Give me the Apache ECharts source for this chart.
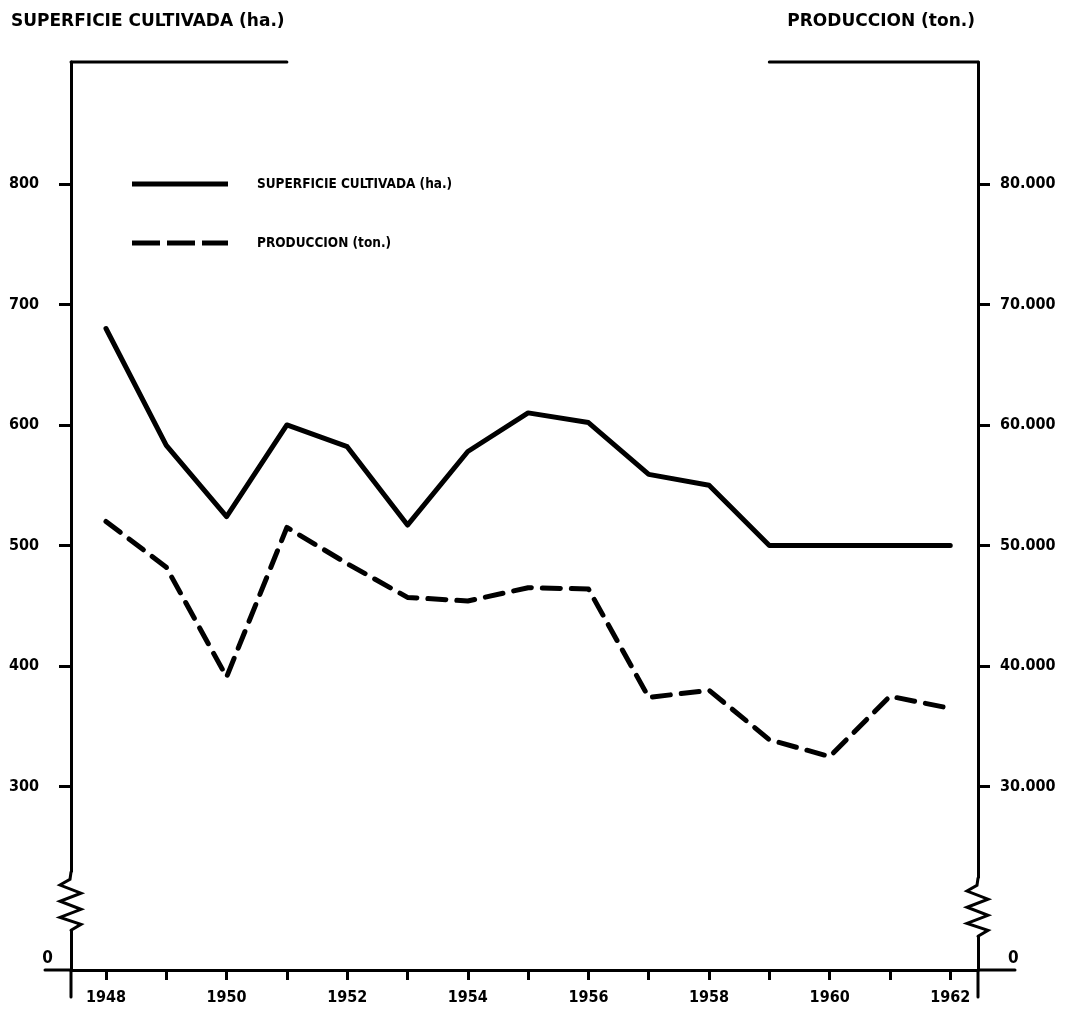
<!DOCTYPE html>
<html>
<head>
<meta charset="utf-8">
<script src="https://cdn.jsdelivr.net/npm/echarts@6/dist/echarts.min.js"></script>
<style>
html, body { margin: 0; padding: 0; background: #fff; }
#chart { width: 1077px; height: 1012px; }
</style>
</head>
<body>
<div id="chart"></div>
<script>
// valores
const years = [1948, 1949, 1950, 1951, 1952, 1953, 1954, 1955, 1956, 1957, 1958, 1959, 1960, 1961, 1962];
const superficie = [680, 583, 524, 600, 582, 517, 578, 610, 602, 559, 550, 500, 500, 500, 500];
const produccion = [52000, 48200, 39100, 51500, 48500, 45700, 45400, 46500, 46400, 37400, 38000, 33900, 32500, 37500, 36500];
const yearLabels = [1948, 1950, 1952, 1954, 1956, 1958, 1960, 1962];
const leftTicks = [300, 400, 500, 600, 700, 800];
const rightTicks = [30000, 40000, 50000, 60000, 70000, 80000];
const breakLabel = '0';

const FONT = '"DejaVu Sans Condensed", "Liberation Sans Narrow", sans-serif';
const WIDE = '"DejaVu Sans", sans-serif';
const X_MIN = 1947.42, X_MAX = 1962.46;
const Y_MIN = 148, Y_MAX = 901;

const chart = echarts.init(document.getElementById('chart'), null, { renderer: 'canvas' });

const axisLine = { show: true, lineStyle: { color: '#000', width: 3 } };
const labelStyle = { color: '#000', fontFamily: FONT, fontWeight: 'bold', fontSize: 16 };
const titleStyle = { color: '#000', fontFamily: WIDE, fontWeight: 'bold', fontSize: 17 };

chart.setOption({
  animation: false,
  backgroundColor: '#fff',
  title: [
    { text: 'SUPERFICIE CULTIVADA (ha.)', left: 6, top: 8, textStyle: titleStyle },
    { text: 'PRODUCCION (ton.)', right: 97, top: 8, textStyle: titleStyle }
  ],
  legend: {
    orient: 'vertical',
    left: 127,
    top: 172,
    itemWidth: 96,
    itemHeight: 5,
    itemGap: 45,
    data: [
      { name: 'SUPERFICIE CULTIVADA (ha.)', icon: 'path://M0,0H96V5H0Z' },
      { name: 'PRODUCCION (ton.)', icon: 'path://M0,0H28V5H0Z M35,0H63V5H35Z M70,0H96V5H70Z' }
    ],
    itemStyle: { color: '#000', borderWidth: 0 },
    textStyle: { color: '#000', fontFamily: FONT, fontWeight: 'bold', fontSize: 13.5, padding: [0, 0, 0, 24] }
  },
  grid: { left: 71, right: 99, top: 62, bottom: 42 },
  xAxis: {
    type: 'value',
    min: X_MIN,
    max: X_MAX,
    axisLine: axisLine,
    splitLine: { show: false },
    axisTick: { show: true, customValues: years, length: 10, lineStyle: { color: '#000', width: 3 } },
    axisLabel: Object.assign({ customValues: yearLabels, margin: 20, fontSize: 17, formatter: v => String(v) }, labelStyle)
  },
  yAxis: [
    {
      type: 'value', position: 'left', min: Y_MIN, max: Y_MAX,
      axisLine: axisLine,
      splitLine: { show: false },
      axisTick: { show: true, customValues: leftTicks, length: 12, lineStyle: { color: '#000', width: 3 } },
      axisLabel: Object.assign({ customValues: leftTicks, margin: 32 }, labelStyle)
    },
    {
      type: 'value', position: 'right', min: Y_MIN * 100, max: Y_MAX * 100,
      axisLine: axisLine,
      splitLine: { show: false },
      axisTick: { show: true, customValues: rightTicks, length: 12, lineStyle: { color: '#000', width: 3 } },
      axisLabel: Object.assign({ customValues: rightTicks, margin: 22, formatter: v => (v / 1000) + '.000' }, labelStyle)
    }
  ],
  series: [
    {
      name: 'SUPERFICIE CULTIVADA (ha.)',
      type: 'line',
      yAxisIndex: 0,
      symbol: 'none',
      data: years.map((y, i) => [y, superficie[i]]),
      lineStyle: { color: '#000', width: 5, join: 'round', cap: 'round' },
      itemStyle: { color: '#000' }
    },
    {
      name: 'PRODUCCION (ton.)',
      type: 'line',
      yAxisIndex: 1,
      symbol: 'none',
      data: years.map((y, i) => [y, produccion[i]]),
      lineStyle: { color: '#000', width: 5, type: [18, 11], join: 'round', cap: 'round' },
      itemStyle: { color: '#000' }
    }
  ]
});

// adornos: borde superior cortado, cortes de eje y prolongaciones
const px = (x, y) => chart.convertToPixel({ xAxisIndex: 0, yAxisIndex: 0 }, [x, y]);
const [axL, yBottom] = px(X_MIN, Y_MIN);
const [axR, yTop] = px(X_MAX, Y_MAX);
const topL = px(1951, Y_MAX)[0];
const topR = px(1959, Y_MAX)[0];
const brTop = px(X_MIN, 229)[1];
const brBot = px(X_MIN, 181)[1];

const stroke = { stroke: '#000', lineWidth: 3, lineCap: 'round', lineJoin: 'miter' };
const line = (x1, y1, x2, y2) => ({ type: 'line', shape: { x1, y1, x2, y2 }, style: stroke, z: 50 });

function zigzag(ax, y0, y1) {
  const h = y1 - y0;
  const pts = [[ax, y0], [ax - 1, y0 + h * 0.12], [ax - 11, y0 + h * 0.22], [ax + 10, y0 + h * 0.36],
    [ax - 11, y0 + h * 0.5], [ax + 10, y0 + h * 0.64], [ax - 11, y0 + h * 0.78], [ax + 10, y0 + h * 0.9],
    [ax, y1]];
  return [
    { type: 'rect', shape: { x: ax - 4, y: y0, width: 8, height: h }, style: { fill: '#fff' }, z: 49 },
    { type: 'polyline', shape: { points: pts }, style: Object.assign({ fill: null }, stroke), z: 50 }
  ];
}

const zeroStyle = { fill: '#000', font: 'bold 17px ' + FONT, textVerticalAlign: 'bottom' };

chart.setOption({
  graphic: [
    line(axL, yTop, topL, yTop),
    line(topR, yTop, axR, yTop),
    line(axL - 26, yBottom, axL, yBottom),
    line(axR, yBottom, axR + 37, yBottom),
    line(axL, yBottom, axL, yBottom + 27),
    line(axR, yBottom, axR, yBottom + 27),
    ...zigzag(axL, brTop, brBot),
    ...zigzag(axR, brTop + 6, brBot + 6),
    { type: 'text', x: axL - 18, y: yBottom - 3, style: Object.assign({ text: breakLabel, textAlign: 'right' }, zeroStyle), z: 50 },
    { type: 'text', x: axR + 30, y: yBottom - 3, style: Object.assign({ text: breakLabel, textAlign: 'left' }, zeroStyle), z: 50 }
  ]
});
</script>
</body>
</html>
